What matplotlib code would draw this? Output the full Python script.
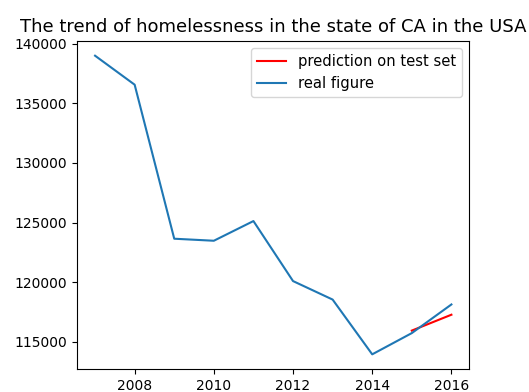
import matplotlib
matplotlib.use("Agg")
import matplotlib.pyplot as plt

# yearly homeless counts for California
years = [2007, 2008, 2009, 2010, 2011, 2012, 2013, 2014, 2015, 2016]
real_counts = [138990, 136560, 123650, 123480, 125130, 120100, 118550, 113960, 115740, 118140]

# model output on the held-out years
test_years = [2015, 2016]
pred_counts = [115950, 117280]

fig = plt.figure(figsize=(5.29, 3.92), dpi=100)
ax = fig.add_axes([0.146, 0.058, 0.741, 0.838])

ax.plot(test_years, pred_counts, color="red", lw=1.5, label="prediction on test set")
ax.plot(years, real_counts, color="tab:blue", lw=1.5, label="real figure")

ax.set_title("The trend of homelessness in the state of CA in the USA", fontsize=13)
ax.tick_params(labelsize=10)
ax.legend(loc="upper right", fontsize=10.6)

fig.savefig("out.png", dpi=100)
